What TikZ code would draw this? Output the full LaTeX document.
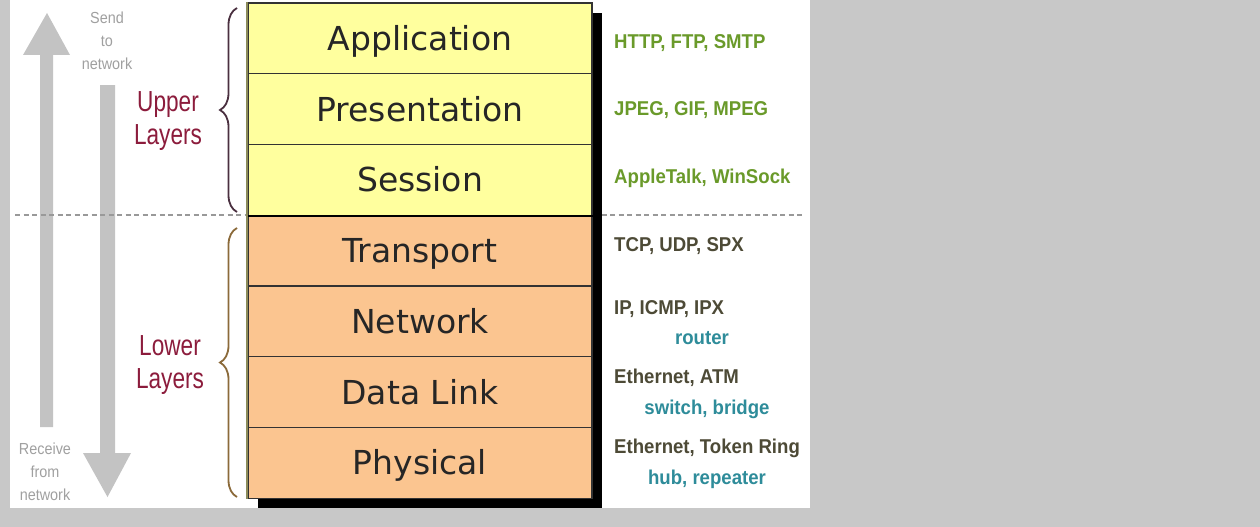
\documentclass[tikz,border=0pt]{standalone}
\usepackage{fontspec}
\setmainfont{Liberation Sans}
\newfontfamily\layerfont{DejaVu Sans}
\newfontfamily\sidefont[FakeStretch=0.78]{Liberation Sans}
\newfontfamily\protofont[FakeStretch=0.93]{Liberation Sans}
\newfontfamily\dirfont[FakeStretch=0.9]{Liberation Sans}
\usetikzlibrary{decorations.pathreplacing,calc}
\definecolor{bggray}{HTML}{C8C8C8}
\definecolor{upperfill}{HTML}{FFFF9E}
\definecolor{lowerfill}{HTML}{FBC590}
\definecolor{protogreen}{HTML}{6A9A2A}
\definecolor{protodark}{HTML}{4D4A36}
\definecolor{devteal}{HTML}{2E8C9A}
\definecolor{sidered}{HTML}{8C1C3C}
\definecolor{arrowgray}{HTML}{C3C3C3}
\definecolor{textgray}{HTML}{A0A0A0}
\definecolor{upbrace}{HTML}{4A3040}
\definecolor{lowbrace}{HTML}{8B6A3A}
\definecolor{edgeolive}{HTML}{8C8C5A}
\begin{document}
\begin{tikzpicture}[x=1pt,y=-1pt,
  layerbox/.style={minimum width=344pt,minimum height=70.75pt,inner sep=0pt,
    draw=black!80,line width=1.3pt,text=black!85,
    font=\layerfont\fontsize{33}{38}\selectfont,text height=24pt,text depth=0pt},
  upperbox/.style={layerbox,fill=upperfill},
  lowerbox/.style={layerbox,fill=lowerfill},
  proto/.style={anchor=west,inner sep=0pt,font=\protofont\bfseries\fontsize{20}{24}\selectfont},
  upproto/.style={proto,text=protogreen},
  lowproto/.style={proto,text=protodark},
  device/.style={inner sep=0pt,text=devteal,font=\protofont\bfseries\fontsize{20}{24}\selectfont},
  sidelabel/.style={align=center,text=sidered,font=\sidefont\fontsize{29}{33}\selectfont},
  dirlabel/.style={align=center,text=textgray,font=\dirfont\fontsize{16}{23}\selectfont},
  bracestyle/.style={decorate,decoration={brace,amplitude=17pt},line width=1.8pt},
  dashline/.style={draw=gray!80,line width=2pt,dash pattern=on 5pt off 3.5pt}
]
\useasboundingbox (0,0) rectangle (1260,527);
\fill[bggray] (0,0) rectangle (1260,527);
\fill[white] (10,0) rectangle (810,508);

% direction arrows
\fill[arrowgray] (40,427) -- (40,55) -- (23,55) -- (47,13) -- (70,55) -- (53,55) -- (53,427) -- cycle;
\fill[arrowgray] (100,85) -- (100,453) -- (83,453) -- (107.5,497) -- (131,453) -- (115,453) -- (115,85) -- cycle;

\node[dirlabel] (send) at (107,41) {Send\\to\\network};
\node[dirlabel] (recv) at (45,472) {Receive\\from\\network};

% dashed separator
\coordinate (dashL) at (15,215);
\coordinate (dashR) at (805,215);
\draw[dashline] (dashL) -- (dashR);

% shadow
\fill[black] (258,13) rectangle (602,508);

% layers
\node[upperbox] (app) at (420,38.375) {Application};
\node[upperbox] (pre) at (420,109.125) {Presentation};
\node[upperbox] (ses) at (420,179.875) {Session};
\node[lowerbox] (tra) at (420,250.625) {Transport};
\node[lowerbox] (net) at (420,321.375) {Network};
\node[lowerbox] (dat) at (420,392.125) {Data Link};
\node[lowerbox] (phy) at (420,462.875) {Physical};
\draw[line width=2.6pt,black] (ses.south west) -- (ses.south east);
\draw[edgeolive,line width=2pt] (app.north west) -- (phy.south west);

% braces
\coordinate (ubT) at (237,8);
\coordinate (ubB) at (237,212);
\coordinate (lbT) at (237,228);
\coordinate (lbB) at (237,497);
\draw[bracestyle,upbrace] (ubB) -- (ubT);
\draw[bracestyle,lowbrace] (lbB) -- (lbT);

\node[sidelabel] (upper) at (168,121) {Upper\\Layers};
\node[sidelabel] (lower) at (170,365) {Lower\\Layers};

% protocols
\node[upproto] (p1) at (614,43) {HTTP, FTP, SMTP};
\node[upproto] (p2) at (614,110) {JPEG, GIF, MPEG};
\node[upproto] (p3) at (614,178) {AppleTalk, WinSock};
\node[lowproto] (p4) at (614,246) {TCP, UDP, SPX};
\node[lowproto] (p5) at (614,309) {IP, ICMP, IPX};
\node[device] (d5) at (702,338) {router};
\node[lowproto] (p6) at (614,378) {Ethernet, ATM};
\node[device] (d6) at (707,409) {switch, bridge};
\node[lowproto] (p7) at (614,448) {Ethernet, Token Ring};
\node[device] (d7) at (707,479) {hub, repeater};
\end{tikzpicture}
\end{document}
